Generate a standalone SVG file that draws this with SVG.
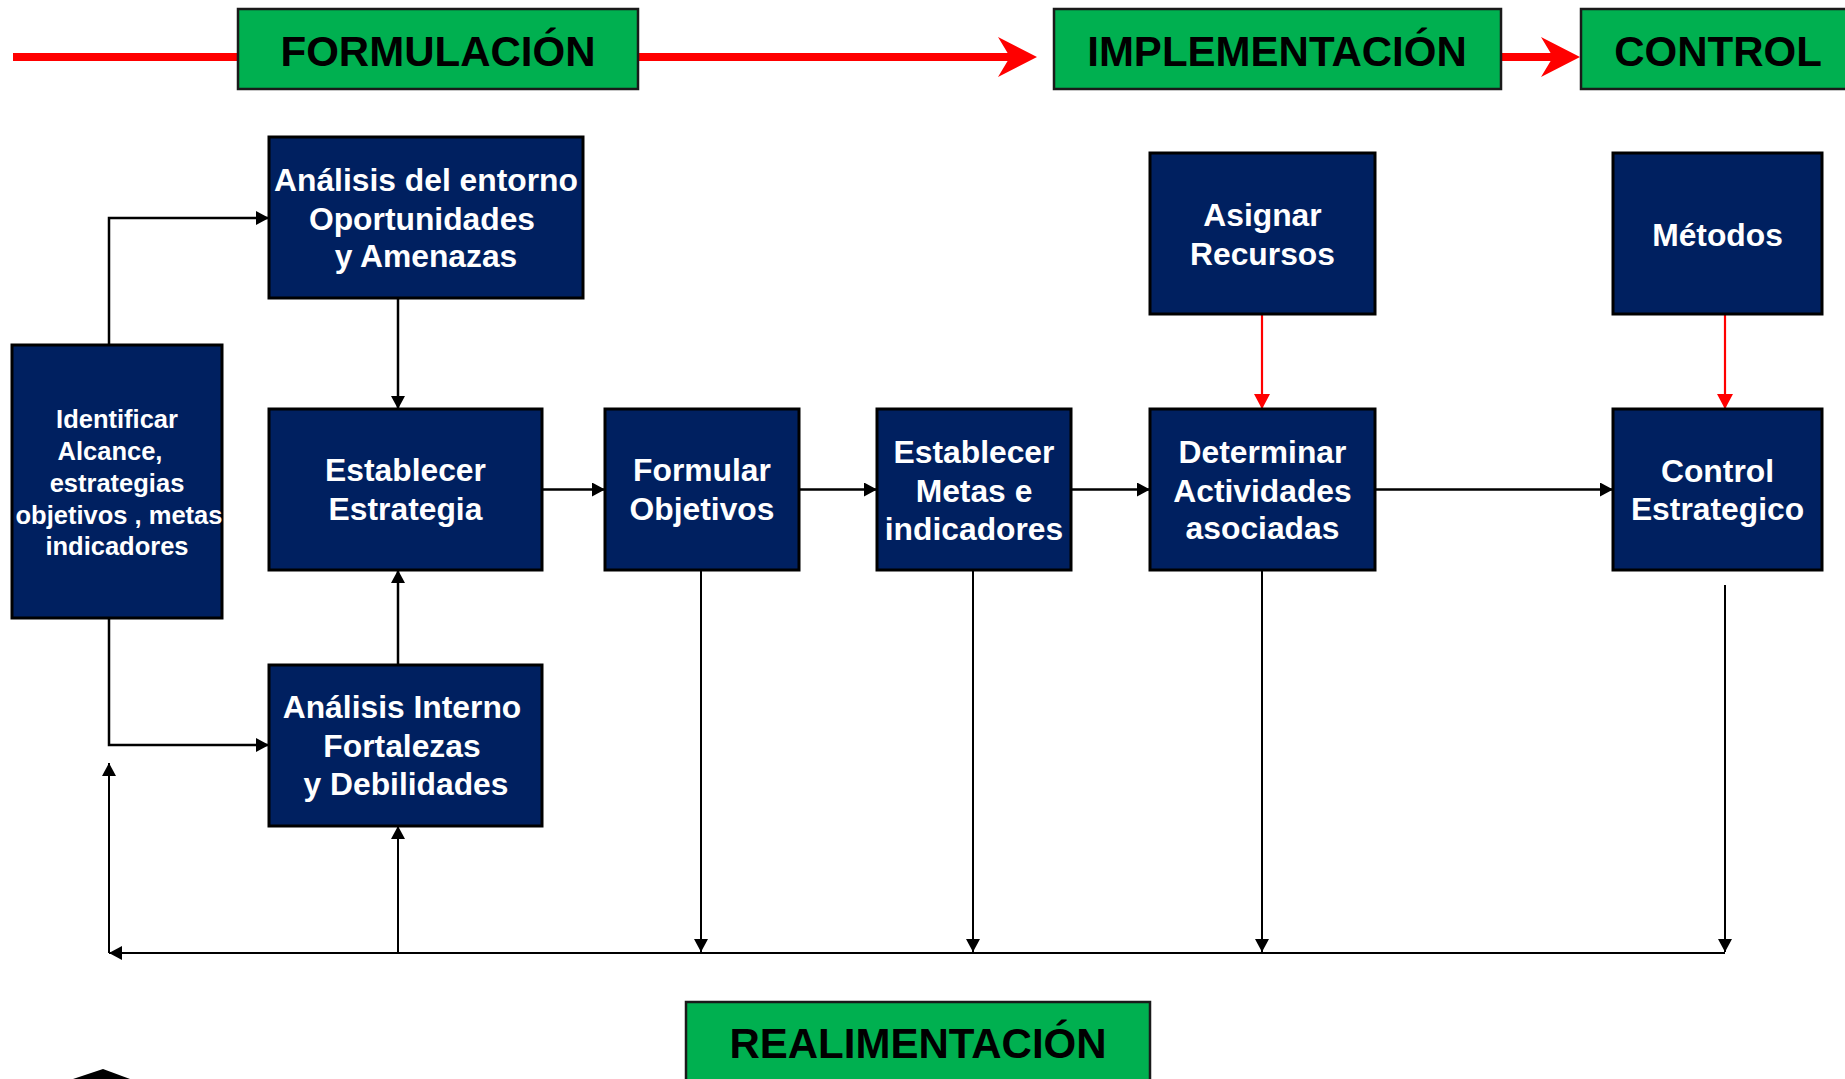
<svg xmlns="http://www.w3.org/2000/svg" width="1845" height="1079" viewBox="0 0 1845 1079">
<defs>
<style>
.box{fill:#002060;stroke:#000;stroke-width:3}
.hdr{fill:#00B050;stroke:#1a1a1a;stroke-width:2.5}
.t{font-family:"Liberation Sans",Arial,sans-serif;font-weight:bold;fill:#fff;font-size:31.8px;text-anchor:middle}
.ts{font-size:25.5px}
.h{font-family:"Liberation Sans",Arial,sans-serif;font-weight:bold;fill:#000;font-size:42px;text-anchor:middle}
.c{fill:none;stroke:#000;stroke-width:2.5}
.f{fill:none;stroke:#000;stroke-width:2}
.r{fill:none;stroke:#f00;stroke-width:2.2}
.rb{fill:none;stroke:#f00;stroke-width:8}
</style>
<marker id="ab" markerUnits="userSpaceOnUse" markerWidth="14" markerHeight="14" refX="13" refY="7" orient="auto">
<path d="M0,0 L13,7 L0,14 z" fill="#000"/>
</marker>
<marker id="ar" markerUnits="userSpaceOnUse" markerWidth="16" markerHeight="16" refX="15" refY="8" orient="auto">
<path d="M0,0 L15,8 L0,16 z" fill="#f00"/>
</marker>
</defs>
<rect width="1845" height="1079" fill="#fff"/>

<g id="phase-arrows">
<line class="rb" x1="13" y1="57" x2="238" y2="57"/>
<line class="rb" x1="638" y1="57" x2="1012" y2="57"/>
<polygon points="1037,57 998,37 1010,57 998,77" fill="#f00"/>
<line class="rb" x1="1501" y1="57" x2="1555" y2="57"/>
<polygon points="1580,57 1541,37 1553,57 1541,77" fill="#f00"/>
</g>

<g id="connectors">
<polyline class="c" points="109,345 109,218 269,218" marker-end="url(#ab)"/>
<polyline class="c" points="109,617 109,745 269,745" marker-end="url(#ab)"/>
<line class="c" x1="398" y1="298" x2="398" y2="409" marker-end="url(#ab)"/>
<line class="c" x1="398" y1="665" x2="398" y2="570" marker-end="url(#ab)"/>
<line class="c" x1="542" y1="489.5" x2="605" y2="489.5" marker-end="url(#ab)"/>
<line class="c" x1="799" y1="489.5" x2="877" y2="489.5" marker-end="url(#ab)"/>
<line class="c" x1="1071" y1="489.5" x2="1150" y2="489.5" marker-end="url(#ab)"/>
<line class="c" x1="1375" y1="489.5" x2="1613" y2="489.5" marker-end="url(#ab)"/>
<line class="r" x1="1262" y1="314" x2="1262" y2="409" marker-end="url(#ar)"/>
<line class="r" x1="1725" y1="314" x2="1725" y2="409" marker-end="url(#ar)"/>
<line class="f" x1="701" y1="570" x2="701" y2="952" marker-end="url(#ab)"/>
<line class="f" x1="973" y1="570" x2="973" y2="952" marker-end="url(#ab)"/>
<line class="f" x1="1262" y1="570" x2="1262" y2="952" marker-end="url(#ab)"/>
<line class="f" x1="1725" y1="585" x2="1725" y2="952" marker-end="url(#ab)"/>
<line class="f" x1="1725" y1="953" x2="109" y2="953" marker-end="url(#ab)"/>
<line class="f" x1="398" y1="953" x2="398" y2="826" marker-end="url(#ab)"/>
<line class="f" x1="109" y1="953" x2="109" y2="763" marker-end="url(#ab)"/>
</g>

<g id="hdr-formulacion">
<rect class="hdr" x="238" y="9" width="400" height="80"/>
<text class="h" x="438" y="66">FORMULACIÓN</text>
</g>
<g id="hdr-implementacion">
<rect class="hdr" x="1054" y="9" width="447" height="80"/>
<text class="h" x="1277" y="66">IMPLEMENTACIÓN</text>
</g>
<g id="hdr-control">
<rect class="hdr" x="1581" y="9" width="280" height="80"/>
<text class="h" x="1718" y="66">CONTROL</text>
</g>
<g id="hdr-realimentacion">
<rect class="hdr" x="686" y="1002" width="464" height="100"/>
<text class="h" x="918" y="1058">REALIMENTACIÓN</text>
</g>

<g id="n-identificar">
<rect class="box" x="12" y="345" width="210" height="273"/>
<text class="t ts" x="117" y="428">Identificar</text>
<text class="t ts" x="110" y="459.5">Alcance,</text>
<text class="t ts" x="117" y="491.5">estrategias</text>
<text class="t ts" x="119" y="523.5">objetivos , metas</text>
<text class="t ts" x="117" y="555">indicadores</text>
</g>
<g id="n-entorno">
<rect class="box" x="269" y="137" width="314" height="161"/>
<text class="t" x="426" y="191">Análisis del entorno</text>
<text class="t" x="422" y="230">Oportunidades</text>
<text class="t" x="426" y="267">y Amenazas</text>
</g>
<g id="n-estrategia">
<rect class="box" x="269" y="409" width="273" height="161"/>
<text class="t" x="405.5" y="481">Establecer</text>
<text class="t" x="405.5" y="520">Estrategia</text>
</g>
<g id="n-interno">
<rect class="box" x="269" y="665" width="273" height="161"/>
<text class="t" x="402" y="718">Análisis Interno</text>
<text class="t" x="402" y="757">Fortalezas</text>
<text class="t" x="406" y="795">y Debilidades</text>
</g>
<g id="n-objetivos">
<rect class="box" x="605" y="409" width="194" height="161"/>
<text class="t" x="702" y="481">Formular</text>
<text class="t" x="702" y="520">Objetivos</text>
</g>
<g id="n-metas">
<rect class="box" x="877" y="409" width="194" height="161"/>
<text class="t" x="974" y="463">Establecer</text>
<text class="t" x="974" y="501.5">Metas e</text>
<text class="t" x="974" y="539.5">indicadores</text>
</g>
<g id="n-actividades">
<rect class="box" x="1150" y="409" width="225" height="161"/>
<text class="t" x="1262.5" y="462.5">Determinar</text>
<text class="t" x="1262.5" y="501.5">Actividades</text>
<text class="t" x="1262.5" y="539">asociadas</text>
</g>
<g id="n-asignar">
<rect class="box" x="1150" y="153" width="225" height="161"/>
<text class="t" x="1262.5" y="226">Asignar</text>
<text class="t" x="1262.5" y="265">Recursos</text>
</g>
<g id="n-metodos">
<rect class="box" x="1613" y="153" width="209" height="161"/>
<text class="t" x="1717.5" y="246">Métodos</text>
</g>
<g id="n-control">
<rect class="box" x="1613" y="409" width="209" height="161"/>
<text class="t" x="1717.5" y="481.5">Control</text>
<text class="t" x="1717.5" y="520">Estrategico</text>
</g>

<polygon points="73,1079 103,1069 130,1079" fill="#000"/>
</svg>
